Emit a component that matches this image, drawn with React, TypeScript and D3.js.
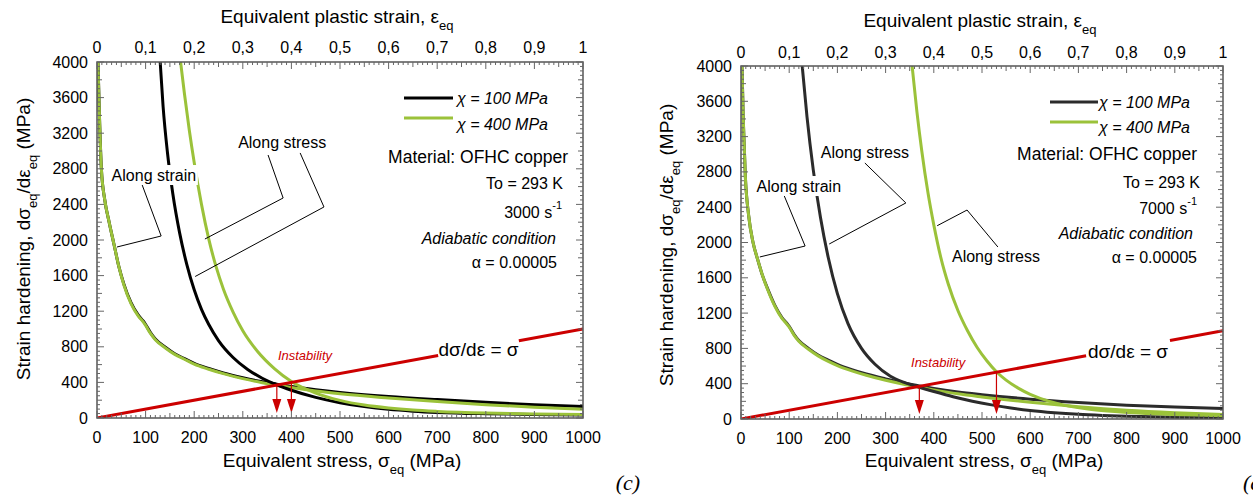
import React from 'react';
import * as d3 from 'd3';

// ---------- shared tick data ----------
const BOTTOM_TICKS = [0, 100, 200, 300, 400, 500, 600, 700, 800, 900, 1000];
const TOP_TICKS = [0, 0.1, 0.2, 0.3, 0.4, 0.5, 0.6, 0.7, 0.8, 0.9, 1];
const TOP_TICK_LABELS = ['0', '0,1', '0,2', '0,3', '0,4', '0,5', '0,6', '0,7', '0,8', '0,9', '1'];
const LEFT_TICKS = [0, 400, 800, 1200, 1600, 2000, 2400, 2800, 3200, 3600, 4000];
const RED_LINE = [0, 1000];

// ---------- strain grid (top axis) ----------
const STRAIN_GRID = [0.002, 0.005, 0.009, 0.016, 0.025, 0.035, 0.045, 0.055, 0.07, 0.085, 0.095, 0.1, 0.11, 0.12, 0.14, 0.16, 0.18, 0.2, 0.23, 0.26, 0.3, 0.34, 0.37, 0.4, 0.45, 0.5, 0.6, 0.7, 0.8, 0.9, 1.0];

// ---------- panel (c): 3000 s-1 ----------
const C_STRAIN_CHI100 = [4000, 3400, 2800, 2450, 2200, 1950, 1700, 1510, 1295, 1155, 1090, 1050, 960, 888, 798, 722, 667, 614, 556, 506, 452, 407, 380, 354, 318, 288, 242, 207, 176, 150, 128];
const C_STRAIN_CHI400 = [4000, 3400, 2800, 2450, 2200, 1950, 1700, 1500, 1285, 1145, 1080, 1040, 950, 880, 790, 715, 660, 605, 548, 498, 442, 397, 368, 342, 303, 272, 225, 185, 150, 120, 98];
const C_STRESS_CHI100_X = [130, 136, 145, 156, 170, 185, 200, 215, 230, 250, 280, 310, 340, 370, 400, 450, 500, 550, 600, 650, 700, 800, 900, 1000];
const C_STRESS_CHI100_Y = [4000, 3500, 2980, 2520, 2080, 1720, 1440, 1220, 1050, 870, 680, 545, 447, 372, 312, 232, 172, 128, 97, 77, 63, 48, 40, 35];
const C_STRESS_CHI400_X = [172, 180, 190, 200, 215, 230, 245, 260, 280, 300, 330, 365, 400, 450, 500, 550, 600, 650, 700, 800, 900, 1000];
const C_STRESS_CHI400_Y = [4000, 3640, 3230, 2870, 2400, 2010, 1700, 1450, 1190, 980, 750, 555, 410, 280, 198, 145, 112, 89, 74, 55, 45, 40];
const C_INSTABILITY = [370, 400];
const C_RED_GAP = [702, 868];

// ---------- panel (d): 7000 s-1 ----------
const D_STRAIN_CHI100 = [4000, 3350, 2750, 2300, 2000, 1800, 1620, 1480, 1290, 1150, 1085, 1050, 960, 890, 800, 725, 670, 620, 560, 510, 455, 405, 375, 345, 305, 275, 225, 187, 157, 135, 120];
const D_STRAIN_CHI400 = [4000, 3350, 2750, 2300, 2000, 1800, 1620, 1470, 1280, 1140, 1075, 1040, 950, 880, 790, 715, 655, 605, 545, 495, 440, 392, 360, 330, 285, 250, 190, 140, 100, 72, 52];
const D_STRESS_CHI100_X = [127, 137, 150, 165, 181, 200, 222, 250, 278, 310, 340, 370, 400, 440, 480, 520, 560, 600, 650, 700, 750, 800, 900, 1000];
const D_STRESS_CHI100_Y = [4000, 3420, 2820, 2280, 1830, 1420, 1080, 800, 620, 485, 412, 360, 312, 252, 202, 160, 124, 96, 71, 53, 41, 32, 21, 15];
const D_STRESS_CHI400_X = [355, 365, 375, 388, 400, 415, 430, 450, 470, 490, 510, 530, 550, 575, 600, 640, 680, 720, 760, 840, 920, 1000];
const D_STRESS_CHI400_Y = [4000, 3480, 3040, 2560, 2200, 1820, 1530, 1230, 1000, 810, 660, 535, 440, 350, 280, 200, 148, 113, 90, 62, 47, 38];
const D_INSTABILITY = [370, 530];
const D_RED_GAP = [716, 890];

const SANS = "'Liberation Sans', Arial, Helvetica, sans-serif";
const GREEN = '#9bc23a';
const RED = '#cc0000';
const AXIS = '#555';

type Annot = { text: string; tx: number; ty: number; leaders: [number, number][][] };

type PanelProps = {
  id: string;
  x0: number; x1: number; yTop: number; yBot: number;
  strainB: number[]; strainG: number[];
  stressBX: number[]; stressBY: number[];
  stressGX: number[]; stressGY: number[];
  black: string;
  redGap: number[];
  instab: number[];
  instabLabel: [number, number];
  redLabel: [number, number];
  annots: Annot[];
  legend: { lx0: number; lx1: number; ly: number[]; tx: number; ty: number[] };
  info: { right: number[]; y: number[]; rate: string };
  title: { cx: number; base: number; tickBase: number; bCx: number; bBase: number; yx: number; yCy: number };
};

function Panel(p: PanelProps) {
  const x = d3.scaleLinear().domain([0, 1000]).range([p.x0, p.x1]);
  const xt = d3.scaleLinear().domain([0, 1]).range([p.x0, p.x1]);
  const y = d3.scaleLinear().domain([0, 4000]).range([p.yBot, p.yTop]);
  const lineS = d3.line<[number, number]>().x(d => x(d[0])).y(d => y(d[1])).curve(d3.curveMonotoneX);
  const lineE = d3.line<[number, number]>().x(d => xt(d[0])).y(d => y(d[1])).curve(d3.curveMonotoneX);
  const zip = (a: number[], b: number[]) => a.map((v, i) => [v, b[i]] as [number, number]);

  const bottomMinor = d3.range(0, 1001, 10);
  const topMinor = d3.range(0, 101, 1);
  const leftMinor = d3.range(0, 4001, 50);
  const lenB = (v: number) => (v % 100 === 0 ? 7 : v % 50 === 0 ? 5 : 3);
  const lenT = (i: number) => (i % 10 === 0 ? 7 : i % 5 === 0 ? 5 : 3);
  const lenL = (v: number) => (v % 400 === 0 ? 7 : v % 200 === 0 ? 5 : 3);

  const clipId = `clip-${p.id}`;
  const arrowH = 14, arrowW = 4.5;

  return (
    <g>
      <defs>
        <clipPath id={clipId}>
          <rect x={p.x0} y={p.yTop} width={p.x1 - p.x0} height={p.yBot - p.yTop} />
        </clipPath>
      </defs>

      {/* curves */}
      <g clipPath={`url(#${clipId})`} fill="none">
        <path d={lineE(zip(STRAIN_GRID, p.strainB)) || ''} stroke={p.black} strokeWidth={3} />
        <path d={lineE(zip(STRAIN_GRID, p.strainG)) || ''} stroke={GREEN} strokeWidth={3} />
        <path d={lineS(zip(p.stressBX, p.stressBY)) || ''} stroke={p.black} strokeWidth={3} />
        <path d={lineS(zip(p.stressGX, p.stressGY)) || ''} stroke={GREEN} strokeWidth={3} />
        <line x1={x(RED_LINE[0])} y1={y(RED_LINE[0])} x2={x(p.redGap[0])} y2={y(p.redGap[0])} stroke={RED} strokeWidth={3} />
        <line x1={x(p.redGap[1])} y1={y(p.redGap[1])} x2={x(RED_LINE[1])} y2={y(RED_LINE[1])} stroke={RED} strokeWidth={3} />
      </g>

      {/* instability arrows */}
      {p.instab.map((s, i) => {
        const xs = x(s);
        const tip = p.yBot - 5;
        return (
          <g key={i}>
            <line x1={xs} y1={y(s)} x2={xs} y2={tip - arrowH + 1} stroke={RED} strokeWidth={1.2} />
            <path d={`M${xs - arrowW},${tip - arrowH} L${xs + arrowW},${tip - arrowH} L${xs},${tip} Z`} fill={RED} />
          </g>
        );
      })}
      <text x={x(p.instabLabel[0])} y={y(p.instabLabel[1])} fontFamily={SANS} fontStyle="italic" fontSize={13} fill={RED} textAnchor="middle" dominantBaseline="central">Instability</text>
      <text x={x(p.redLabel[0])} y={y(p.redLabel[1])} fontFamily={SANS} fontSize={19} fill="#000" textAnchor="middle" dominantBaseline="central">dσ/dε = σ</text>

      {/* annotations */}
      {p.annots.map((a, i) => (
        <g key={i}>
          {a.leaders.map((L, j) => (
            <polyline key={j} points={L.map(q => `${x(q[0])},${y(q[1])}`).join(' ')} fill="none" stroke="#000" strokeWidth={1} />
          ))}
          <rect x={x(a.tx) - 44} y={y(a.ty) - 10} width={88} height={20} fill="#fff" />
          <text x={x(a.tx)} y={y(a.ty)} fontFamily={SANS} fontSize={16} textAnchor="middle" dominantBaseline="central">{a.text}</text>
        </g>
      ))}

      {/* frame & ticks */}
      <rect x={p.x0} y={p.yTop} width={p.x1 - p.x0} height={p.yBot - p.yTop} fill="none" stroke={AXIS} strokeWidth={1.5} />
      <g stroke="#666" strokeWidth={1}>
        {bottomMinor.map(v => (
          <line key={'b' + v} x1={x(v)} x2={x(v)} y1={p.yBot} y2={p.yBot - lenB(v)} />
        ))}
        {topMinor.map(i => (
          <line key={'t' + i} x1={xt(i / 100)} x2={xt(i / 100)} y1={p.yTop} y2={p.yTop + lenT(i)} />
        ))}
        {leftMinor.map(v => (
          <line key={'l' + v} x1={p.x0} x2={p.x0 + lenL(v)} y1={y(v)} y2={y(v)} />
        ))}
        {leftMinor.map(v => (
          <line key={'r' + v} x1={p.x1} x2={p.x1 - lenL(v)} y1={y(v)} y2={y(v)} />
        ))}
      </g>

      {/* tick labels */}
      <g fontFamily={SANS} fontSize={16} fill="#000">
        {BOTTOM_TICKS.map(v => (
          <text key={'bl' + v} x={x(v)} y={p.yBot + 25} textAnchor="middle">{v}</text>
        ))}
        {TOP_TICKS.map((v, i) => (
          <text key={'tl' + v} x={xt(v)} y={p.title.tickBase} textAnchor="middle">{TOP_TICK_LABELS[i]}</text>
        ))}
        {LEFT_TICKS.map(v => (
          <text key={'ll' + v} x={p.x0 - 9} y={y(v)} textAnchor="end" dominantBaseline="central">{v}</text>
        ))}
      </g>

      {/* axis titles */}
      <text x={p.title.cx} y={p.title.base} fontFamily={SANS} fontSize={19} textAnchor="middle">
        Equivalent plastic strain, ε<tspan dy={7} fontSize={13}>eq</tspan>
      </text>
      <text x={p.title.bCx} y={p.title.bBase} fontFamily={SANS} fontSize={19} textAnchor="middle">
        Equivalent stress, σ<tspan dy={7} fontSize={13}>eq</tspan><tspan dy={-7}> (MPa)</tspan>
      </text>
      <text transform={`translate(${p.title.yx},${p.title.yCy}) rotate(-90)`} fontFamily={SANS} fontSize={19} textAnchor="middle">
        Strain hardening, dσ<tspan dy={7} fontSize={13}>eq</tspan><tspan dy={-7}>/dε</tspan><tspan dy={7} fontSize={13}>eq</tspan><tspan dy={-7}> (MPa)</tspan>
      </text>

      {/* legend */}
      <line x1={p.legend.lx0} x2={p.legend.lx1} y1={p.legend.ly[0]} y2={p.legend.ly[0]} stroke={p.black} strokeWidth={3} />
      <line x1={p.legend.lx0} x2={p.legend.lx1} y1={p.legend.ly[1]} y2={p.legend.ly[1]} stroke={GREEN} strokeWidth={3} />
      <text x={p.legend.tx} y={p.legend.ty[0]} fontFamily={SANS} fontSize={16} fontStyle="italic" dominantBaseline="central">χ = 100 MPa</text>
      <text x={p.legend.tx} y={p.legend.ty[1]} fontFamily={SANS} fontSize={16} fontStyle="italic" dominantBaseline="central">χ = 400 MPa</text>

      {/* info block */}
      <g fontFamily={SANS} textAnchor="end" dominantBaseline="central">
        <text x={p.info.right[0]} y={p.info.y[0]} fontSize={17.5}>Material: OFHC copper</text>
        <text x={p.info.right[1]} y={p.info.y[1]} fontSize={16}>To = 293 K</text>
        <text x={p.info.right[2]} y={p.info.y[2]} fontSize={16}>{p.info.rate} s<tspan dy={-7} fontSize={11}>-1</tspan></text>
        <text x={p.info.right[3]} y={p.info.y[3]} fontSize={16} fontStyle="italic">Adiabatic condition</text>
        <text x={p.info.right[4]} y={p.info.y[4]} fontSize={16}>α = 0.00005</text>
      </g>
    </g>
  );
}

export default function App() {
  return (
    <svg width={1253} height={497} style={{ position: 'fixed', left: 0, top: 0, background: '#fff' }}>
      <rect x={0} y={0} width={1253} height={497} fill="#fff" />
      <Panel
        id="c"
        x0={97} x1={583} yTop={62} yBot={418}
        strainB={C_STRAIN_CHI100} strainG={C_STRAIN_CHI400}
        stressBX={C_STRESS_CHI100_X} stressBY={C_STRESS_CHI100_Y}
        stressGX={C_STRESS_CHI400_X} stressGY={C_STRESS_CHI400_Y}
        black="#000"
        redGap={C_RED_GAP}
        instab={C_INSTABILITY}
        instabLabel={[428, 700]}
        redLabel={[785, 770]}
        annots={[
          { text: 'Along strain', tx: 117, ty: 2730, leaders: [[[93, 2618], [132, 2045], [41, 1921]]] },
          { text: 'Along stress', tx: 381, ty: 3101, leaders: [[[352, 2955], [383, 2472], [222, 2011]], [[418, 2978], [467, 2371], [202, 1590]]] },
        ]}
        legend={{ lx0: 404, lx1: 453, ly: [98, 118], tx: 457, ty: [98, 124] }}
        info={{ right: [568, 563, 562, 556, 557], y: [157, 183, 212, 238, 262], rate: '3000' }}
        title={{ cx: 337, base: 23, tickBase: 53, bCx: 342, bBase: 467, yx: 30, yCy: 239 }}
      />
      <Panel
        id="d"
        x0={741} x1={1223} yTop={66} yBot={419}
        strainB={D_STRAIN_CHI100} strainG={D_STRAIN_CHI400}
        stressBX={D_STRESS_CHI100_X} stressBY={D_STRESS_CHI100_Y}
        stressGX={D_STRESS_CHI400_X} stressGY={D_STRESS_CHI400_Y}
        black="#2b2b2b"
        redGap={D_RED_GAP}
        instab={D_INSTABILITY}
        instabLabel={[409, 636]}
        redLabel={[803, 760]}
        annots={[
          { text: 'Along stress', tx: 257, ty: 3025, leaders: [[[257, 2901], [342, 2448], [183, 1983]]] },
          { text: 'Along strain', tx: 120, ty: 2640, leaders: [[[89, 2538], [133, 1960], [39, 1836]]] },
          { text: 'Along stress', tx: 529, ty: 1836, leaders: [[[533, 1949], [469, 2368], [407, 2190]]] },
        ]}
        legend={{ lx0: 1050, lx1: 1098, ly: [102, 122], tx: 1099, ty: [102, 127] }}
        info={{ right: [1197, 1200, 1197, 1193, 1197], y: [154, 182, 208, 233, 257], rate: '7000' }}
        title={{ cx: 980, base: 27, tickBase: 58, bCx: 984, bBase: 467, yx: 673, yCy: 245 }}
      />
      <text x={628} y={490} fontFamily="'Liberation Serif', 'Times New Roman', serif" fontStyle="italic" fontSize={22} textAnchor="middle">(c)</text>
      <text x={1243} y={490} fontFamily="'Liberation Serif', 'Times New Roman', serif" fontStyle="italic" fontSize={22}>(d)</text>
    </svg>
  );
}
